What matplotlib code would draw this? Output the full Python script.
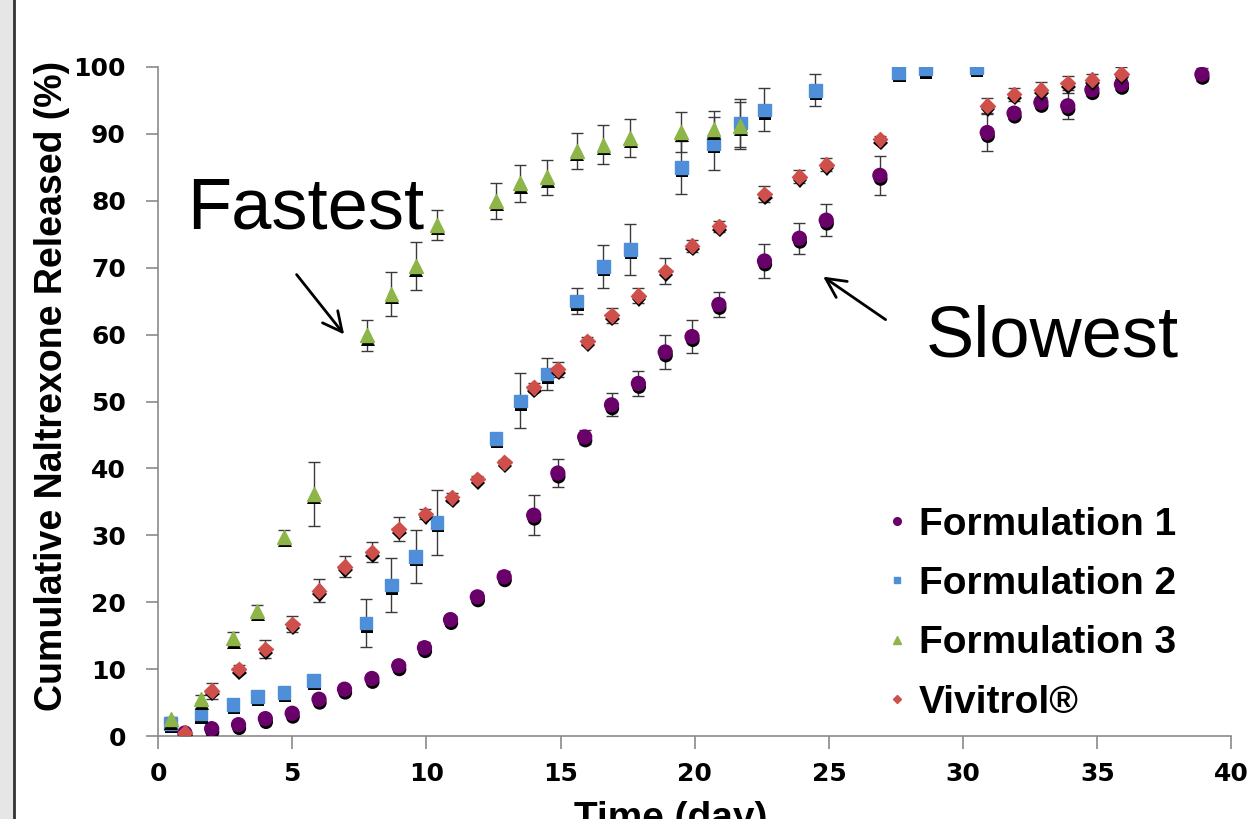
import matplotlib
matplotlib.use("Agg")
import matplotlib.pyplot as plt
import matplotlib.patheffects as pe
from matplotlib.lines import Line2D
from matplotlib.patches import Rectangle

plt.rcParams['font.family'] = ['Liberation Sans', 'DejaVu Sans']

# Formulation 1 (purple circles)
f1_day = [1, 2, 3, 4, 5, 6, 6.95, 7.97, 8.97, 9.93, 10.9, 11.9, 12.9, 14.0, 14.9, 15.9,
          16.9, 17.9, 18.9, 19.9, 20.9, 22.6, 23.9, 24.9, 26.9, 30.9, 31.9, 32.9, 33.9,
          34.8, 35.9, 38.9]
f1_val = [0.45, 1.1, 1.7, 2.6, 3.4, 5.5, 7.0, 8.6, 10.5, 13.2, 17.4, 20.8, 23.8, 33.0,
          39.3, 44.7, 49.5, 52.7, 57.4, 59.7, 64.5, 71.0, 74.4, 77.1, 83.8, 90.2, 93.1,
          94.7, 94.2, 96.6, 97.4, 98.9]
f1_err = [0.3, 0.3, 0.3, 0.4, 0.4, 0.4, 0.4, 0.4, 0.5, 0.8, 0.5, 0.7, 0.8, 3.0, 2.1, 1.0,
          1.7, 1.9, 2.6, 2.5, 1.9, 2.5, 2.3, 2.4, 2.9, 2.8, 0.8, 0.8, 1.9, 1.0, 0.8, 1.0]

# Formulation 2 (blue squares)
f2_day = [0.47, 1.6, 2.8, 3.7, 4.7, 5.8, 7.76, 8.7, 9.6, 10.4, 12.6, 13.5, 14.5, 15.6,
          16.6, 17.6, 19.5, 20.7, 21.7, 22.6, 24.5, 27.6, 28.6, 30.5]
f2_val = [1.9, 3.3, 4.7, 5.9, 6.5, 8.3, 16.9, 22.6, 26.8, 31.9, 44.5, 50.1, 54.1, 65.0,
          70.2, 72.7, 85.0, 88.6, 91.6, 93.6, 96.5, 99.2, 99.7, 99.9]
f2_err = [0.3, 0.3, 0.4, 0.4, 0.4, 0.5, 3.6, 4.0, 4.0, 4.9, 0.6, 4.1, 2.4, 1.9, 3.2, 3.8,
          4.0, 4.0, 3.6, 3.2, 2.4, 0.5, 0.5, 0.5]

# Formulation 3 (green triangles)
f3_day = [0.47, 1.6, 2.8, 3.7, 4.7, 5.8, 7.8, 8.7, 9.6, 10.4, 12.6, 13.5, 14.5, 15.6,
          16.6, 17.6, 19.5, 20.7, 21.7]
f3_val = [2.5, 5.5, 14.6, 18.7, 29.8, 36.2, 59.9, 66.1, 70.2, 76.4, 80.0, 82.6, 83.5,
          87.5, 88.4, 89.4, 90.3, 90.7, 91.2]
f3_err = [0.4, 0.6, 0.9, 0.9, 1.0, 4.8, 2.3, 3.3, 3.6, 2.2, 2.7, 2.8, 2.6, 2.7, 2.9, 2.8,
          3.0, 2.7, 3.5]

# Vivitrol (red diamonds)
viv_day = [1, 2, 3, 4, 5, 6, 6.95, 7.97, 8.97, 9.96, 10.96, 11.9, 12.9, 14.0, 14.9, 16.0,
           16.9, 17.9, 18.9, 19.9, 20.9, 22.6, 23.9, 24.9, 26.9, 30.9, 31.9, 32.9, 33.9,
           34.8, 35.9]
viv_val = [0.5, 6.8, 10.0, 13.0, 16.7, 21.7, 25.3, 27.5, 30.9, 33.2, 35.7, 38.4, 40.9,
           52.1, 54.8, 59.0, 62.9, 65.8, 69.5, 73.3, 76.2, 81.0, 83.6, 85.4, 89.2, 94.2,
           95.9, 96.6, 97.6, 98.1, 99.0]
viv_err = [0.3, 1.2, 0.6, 1.4, 1.2, 1.7, 1.6, 1.5, 1.8, 0.7, 0.7, 0.5, 0.4, 0.7, 1.1, 0.6,
           1.1, 1.1, 2.0, 0.9, 0.8, 1.2, 1.0, 1.0, 0.5, 1.1, 1.0, 1.2, 1.0, 0.8, 1.0]

series = [
    ("Formulation 1", f1_day, f1_val, f1_err, 'o', '#6A006A', 10),
    ("Formulation 2", f2_day, f2_val, f2_err, 's', '#4F8FDA', 9),
    ("Formulation 3", f3_day, f3_val, f3_err, '^', '#8DB548', 10),
    ("Vivitrol®", viv_day, viv_val, viv_err, 'D', '#CF4F4B', 7.5),
]

fig = plt.figure(figsize=(12.54, 8.19), dpi=100)
ax = fig.add_axes([0.126, 0.1013, 0.856, 0.8169])

shadow = [pe.SimplePatchShadow(offset=(0.5, -2.5), shadow_rgbFace='black', alpha=1.0),
          pe.Normal()]

handles = []
for name, d, v, e, mk, col, ms in series:
    cont = ax.errorbar(d, v, yerr=e, fmt=mk, color=col, ms=ms, mec=col,
                       ecolor='#3a3a3a', elinewidth=1.0, capsize=4, capthick=1.0,
                       zorder=3)
    cont[0].set_path_effects(shadow)
    handles.append(Line2D([], [], ls='none', marker=mk, color=col,
                          ms=ms * 0.55, label=name))

ax.set_xlim(0, 40)
ax.set_ylim(0, 100)
ax.set_xticks(range(0, 41, 5))
ax.set_yticks(range(0, 101, 10))
for s in ['top', 'right']:
    ax.spines[s].set_visible(False)
for s in ['left', 'bottom']:
    ax.spines[s].set_color('#8a8a8a')
    ax.spines[s].set_linewidth(1.2)
ax.tick_params(axis='both', direction='out', length=9, width=1.2, color='#8a8a8a',
               pad=10)
ax.tick_params(axis='y', pad=14)
for lab in ax.get_xticklabels() + ax.get_yticklabels():
    lab.set_fontweight('bold')
    lab.set_fontfamily('DejaVu Sans')
    lab.set_fontsize(18)

fig.text(52 / 1254, 1 - 386 / 819, "Cumulative Naltrexone Released (%)",
         rotation=90, ha='center', va='center', fontsize=27, fontweight='bold')
fig.text(671 / 1254, -10 / 819, "Time (day)", ha='center', va='baseline',
         fontsize=28, fontweight='bold')

ax.text(1.1, 75.9, "Fastest", fontsize=52, ha='left', va='baseline')
ax.text(28.6, 56.7, "Slowest", fontsize=52, ha='left', va='baseline')
ax.annotate("", xy=(7.0, 59.7), xytext=(5.1, 69.3),
            arrowprops=dict(arrowstyle='->', lw=2, color='black',
                            mutation_scale=35))
ax.annotate("", xy=(24.7, 68.9), xytext=(27.2, 62.0),
            arrowprops=dict(arrowstyle='->', lw=2, color='black',
                            mutation_scale=35))

leg = ax.legend(handles=handles, loc='upper left',
                bbox_to_anchor=(870 / 1254, 1 - 491 / 819),
                bbox_transform=fig.transFigure, frameon=False,
                prop={'size': 28, 'weight': 'bold'}, handlelength=0.6,
                handletextpad=0.25, labelspacing=0.6, borderaxespad=0)

# grey strip with border at the left edge
fig.patches.append(Rectangle((0, 0), 14 / 1254, 1, transform=fig.transFigure,
                             facecolor='#e6e6e6', edgecolor='none', zorder=0))
fig.lines.append(Line2D([14 / 1254, 14 / 1254], [0, 1], transform=fig.transFigure,
                        color='#333333', lw=2))

fig.savefig("out.png", dpi=100)
